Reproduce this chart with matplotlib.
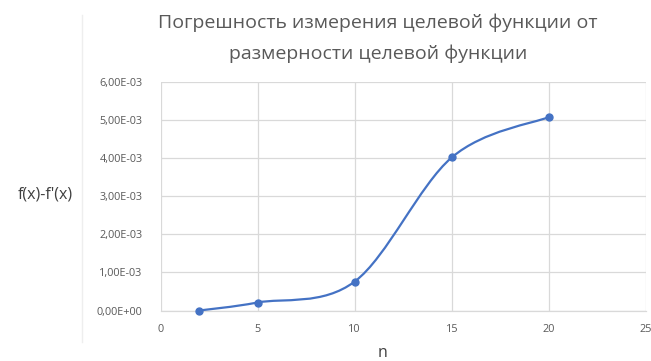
import matplotlib
matplotlib.use("Agg")
import matplotlib.pyplot as plt
from matplotlib.path import Path
from matplotlib.patches import PathPatch
from matplotlib.lines import Line2D
from matplotlib.ticker import FuncFormatter, MultipleLocator
import numpy as np

# Data: error of the objective function vs. its dimension
n_values = [2, 5, 10, 15, 20]
errors = [0.0, 2.1e-4, 7.6e-4, 4.02e-3, 5.08e-3]

title_lines = ["Погрешность измерения целевой функции от",
               "размерности целевой функции"]
x_label = "n"
y_label = "f(x)-f'(x)"

BLUE = "#4472C4"
GRID = "#d9d9d9"
TICK = "#595959"
FONT = "Open Sans"

W, H = 651, 361
fig = plt.figure(figsize=(W / 100, H / 100), dpi=100)
ax = fig.add_axes([160.5 / W, 1 - 310.5 / H, (646 - 160.5) / W, (310.5 - 82) / H])

ax.set_xlim(0, 25)
ax.set_ylim(0, 6e-3)
ax.xaxis.set_major_locator(MultipleLocator(5))
ax.yaxis.set_major_locator(MultipleLocator(1e-3))
ax.yaxis.set_major_formatter(FuncFormatter(lambda v, p: f"{v:.2E}".replace(".", ",")))

ax.grid(True, color=GRID, linewidth=0.9)
ax.set_axisbelow(True)
for side in ("top", "right", "left"):
    ax.spines[side].set_visible(False)
ax.spines["bottom"].set_color(GRID)
ax.spines["bottom"].set_linewidth(0.9)
ax.tick_params(length=0, colors=TICK, labelsize=7.8)
ax.tick_params(axis="y", pad=13)
ax.tick_params(axis="x", pad=10)
for lbl in ax.get_xticklabels() + ax.get_yticklabels():
    lbl.set_family(FONT)

# Smoothed line through the points (Catmull-Rom style Bezier segments)
pts = np.column_stack([n_values, errors]).astype(float)
ext = np.vstack([pts[0], pts, pts[-1]])
verts = [tuple(pts[0])]
codes = [Path.MOVETO]
for i in range(len(pts) - 1):
    p0, p1, p2, p3 = ext[i], ext[i + 1], ext[i + 2], ext[i + 3]
    c1 = p1 + (p2 - p0) / 6.0
    c2 = p2 - (p3 - p1) / 6.0
    verts += [tuple(c1), tuple(c2), tuple(p2)]
    codes += [Path.CURVE4] * 3
ax.add_patch(PathPatch(Path(verts, codes), facecolor="none", edgecolor=BLUE,
                       linewidth=1.6, capstyle="round", zorder=3))
ax.plot(n_values, errors, linestyle="none", marker="o", markersize=5,
        color=BLUE, zorder=4, clip_on=False)

# Title (two centred lines) and axis labels
for text, yc in zip(title_lines, (23, 54)):
    fig.text(378 / W, 1 - yc / H, text, ha="center", va="center",
             fontsize=14, color=TICK, family=FONT)
fig.text(45 / W, 1 - 195 / H, y_label, ha="center", va="center",
         fontsize=11.5, color="#404040", family=FONT)
fig.text(382 / W, 1 - 353 / H, x_label, ha="center", va="center",
         fontsize=11.5, color="#404040", family=FONT)

# Faint chart-area edge on the left
fig.add_artist(Line2D([82 / W, 82 / W], [1 - 15 / H, 1 - 342 / H],
                      transform=fig.transFigure, color="#eeeeee", linewidth=1))

fig.savefig("out.png", dpi=100)
